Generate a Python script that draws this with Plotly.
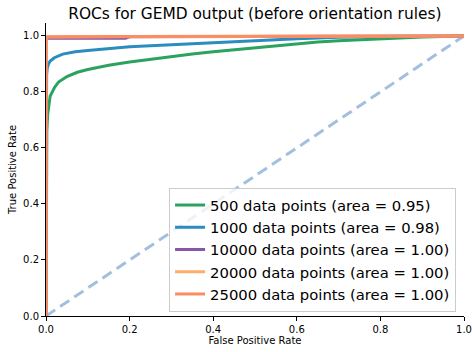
import plotly.graph_objects as go

# ---- data ----
fpr_500 = [0, 0.0005, 0.001, 0.002, 0.004, 0.007, 0.01, 0.02, 0.03, 0.05, 0.075, 0.1, 0.15, 0.2,
           0.25, 0.3, 0.35, 0.4, 0.45, 0.5, 0.55, 0.6, 0.65, 0.7, 0.8, 0.9, 1.0]
tpr_500 = [0, 0.5, 0.6, 0.66, 0.72, 0.76, 0.785, 0.815, 0.835, 0.855, 0.87, 0.88, 0.895, 0.907,
           0.917, 0.926, 0.935, 0.943, 0.95, 0.958, 0.965, 0.972, 0.978, 0.983, 0.99, 0.996, 1.0]

fpr_1000 = [0, 0.0003, 0.0008, 0.0015, 0.003, 0.006, 0.01, 0.02, 0.04, 0.07, 0.1, 0.15, 0.2,
            0.3, 0.4, 0.5, 0.6, 0.7, 0.8, 1.0]
tpr_1000 = [0, 0.6, 0.8, 0.86, 0.885, 0.9, 0.91, 0.922, 0.935, 0.943, 0.948, 0.955, 0.961,
            0.968, 0.976, 0.984, 0.99, 0.995, 0.998, 1.0]

fpr_10000 = [0, 0.0001, 0.19, 0.2, 1.0]
tpr_10000 = [0, 0.992, 0.992, 0.997, 1.0]

fpr_20000 = [0, 0.0001, 0.3, 1.0]
tpr_20000 = [0, 0.996, 0.998, 1.0]

fpr_25000 = [0, 0.0001, 0.2, 0.6, 1.0]
tpr_25000 = [0, 0.997, 0.998, 1.0, 1.0]

chance_x = [0, 1]
chance_y = [0, 1]

labels = ["500 data points (area = 0.95)",
          "1000 data points (area = 0.98)",
          "10000 data points (area = 1.00)",
          "20000 data points (area = 1.00)",
          "25000 data points (area = 1.00)"]
colors = ["#2ca25f", "#2b8cbe", "#8856a7", "#fdae6b", "#fc8d62"]

tick_vals = [0, 0.2, 0.4, 0.6, 0.8, 1.0]
tick_text = ["0.0", "0.2", "0.4", "0.6", "0.8", "1.0"]

series = [(fpr_500, tpr_500), (fpr_1000, tpr_1000), (fpr_10000, tpr_10000),
          (fpr_20000, tpr_20000), (fpr_25000, tpr_25000)]

fig = go.Figure()
fig.add_trace(go.Scatter(x=chance_x, y=chance_y, mode="lines", showlegend=False,
                         line=dict(color="rgba(140,175,215,0.8)", width=3, dash="11px,6px")))
for (x, y), lab, c in zip(series, labels, colors):
    fig.add_trace(go.Scatter(x=x, y=y, mode="lines", name=lab,
                             line=dict(color=c, width=3)))

font = "DejaVu Sans, sans-serif"
fig.update_layout(
    width=472, height=352,
    margin=dict(l=46, r=8, t=23, b=36),
    paper_bgcolor="white", plot_bgcolor="white",
    font=dict(family=font, color="black", size=10),
    title=dict(text="ROCs for GEMD output (before orientation rules)",
               font=dict(size=15.4, color="black", family=font), x=0.54, xanchor="center",
               y=0.962, yanchor="middle"),
    legend=dict(x=0.981, y=0.014, xanchor="right", yanchor="bottom",
                font=dict(size=14.8, color="black", family=font), bgcolor="rgba(255,255,255,0.8)",
                bordercolor="#cccccc", borderwidth=1),
    xaxis=dict(range=[0, 1], tickvals=tick_vals, ticktext=tick_text, automargin=False,
               showgrid=False, zeroline=False, showline=True, linecolor="black",
               linewidth=1, ticks="outside", ticklen=4, tickcolor="black",
               title=dict(text="False Positive Rate", font=dict(size=10), standoff=2)),
    yaxis=dict(range=[0, 1.046], tickvals=tick_vals, ticktext=tick_text, automargin=False,
               showgrid=False, zeroline=False, showline=True, linecolor="black",
               linewidth=1, ticks="outside", ticklen=4, tickcolor="black",
               title=dict(text="True Positive Rate", font=dict(size=10), standoff=4)),
)

fig.write_html("out.html", config={"displayModeBar": False},
               post_script="document.body.style.margin='0';")
